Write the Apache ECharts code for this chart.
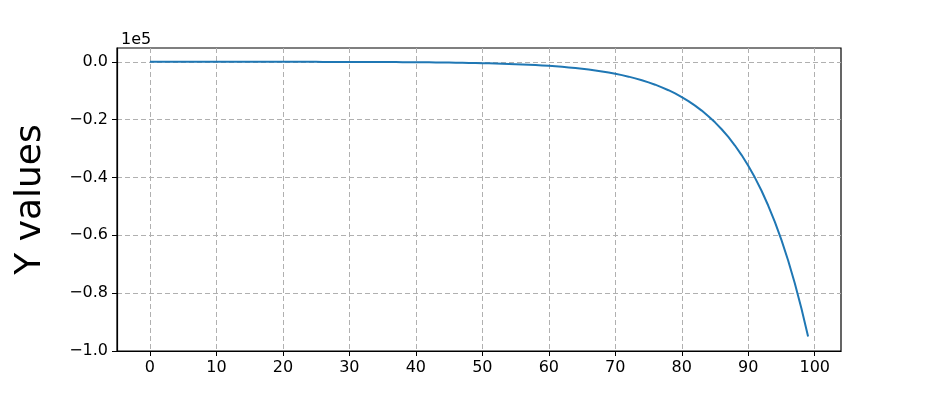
<!DOCTYPE html>
<html>
<head>
<meta charset="utf-8">
<script src="https://cdn.jsdelivr.net/npm/echarts@6/dist/echarts.min.js"></script>
<style>
html,body{margin:0;padding:0;background:#fff;}
#chart{width:934px;height:401px;}
</style>
</head>
<body>
<div id="chart"></div>
<script>
var yValues = [
  -2,-2,-2,-3,-3,-3,-4,-4,-5,-5,-6,-7,-8,-9,-10,-11,-12,-13,-15,-17,
  -19,-21,-23,-26,-29,-32,-36,-40,-44,-49,-55,-61,-68,-76,-85,-95,-105,-117,-131,-146,
  -162,-181,-201,-224,-250,-279,-310,-346,-385,-429,
  -478,-533,-594,-661,-737,-820,-914,-1018,-1134,-1264,-1408,-1568,-1747,-1947,-2169,-2416,-2691,-2998,-3340,-3721,
  -4145,-4618,-5144,-5731,-6385,-7113,-7924,-8828,-9834,-10956,-12206,-13598,-15148,-16876,-18801,-20945,-23334,-25995,-28959,-32262,
  -35941,-40040,-44606,-49694,-55361,-61675,-68709,-76545,-85275,-95000
];
var xTicks = [0,10,20,30,40,50,60,70,80,90,100];
var yTicks = [-100000,-80000,-60000,-40000,-20000,0];
var yLabel = "Y values";
var offsetText = "1e5";

var points = yValues.map(function(v,i){return [i,v];});
var font = "DejaVu Sans";

var chart = echarts.init(document.getElementById('chart'), null, {renderer:'canvas'});
chart.setOption({
  animation:false,
  backgroundColor:'#fff',
  title:{text:offsetText,left:116,top:27,textStyle:{fontFamily:font,fontSize:16,fontWeight:'normal',color:'#000'}},
  grid:{left:117,right:93,top:48,bottom:50,show:true,borderColor:'#000',borderWidth:1.2,backgroundColor:'transparent'},
  xAxis:{
    type:'value',min:-4.95,max:103.95,splitNumber:10,
    axisLine:{show:true,onZero:false,lineStyle:{color:'#000',width:1.2}},
    axisTick:{show:true,length:5,customValues:xTicks,lineStyle:{color:'#000',width:1}},
    axisLabel:{customValues:xTicks,fontFamily:font,fontSize:16,color:'#000',margin:9},
    splitLine:{show:true,lineStyle:{color:'#b0b0b0',width:1,type:[5,3]}}
  },
  yAxis:{
    type:'value',min:-100000,max:4762,interval:20000,
    name:yLabel,nameLocation:'middle',nameGap:68,nameRotate:90,
    nameTextStyle:{fontFamily:font,fontSize:36,color:'#000'},
    axisLine:{show:true,onZero:false,lineStyle:{color:'#000',width:1.2}},
    axisTick:{show:true,length:5,customValues:yTicks,lineStyle:{color:'#000',width:1}},
    axisLabel:{customValues:yTicks,fontFamily:font,fontSize:16,color:'#000',margin:9,
      formatter:function(v){var s=(v/100000).toFixed(1);return s.replace('-','\u2212');}},
    splitLine:{show:true,lineStyle:{color:'#b0b0b0',width:1,type:[5,3]}}
  },
  series:[{type:'line',data:points,showSymbol:false,lineStyle:{color:'#1f77b4',width:2},itemStyle:{color:'#1f77b4'}}]
});
</script>
</body>
</html>
